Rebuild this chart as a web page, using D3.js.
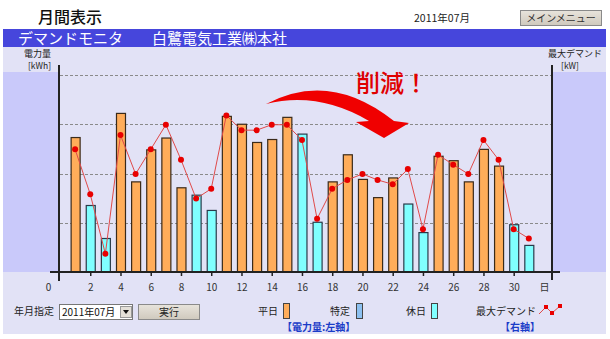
<!DOCTYPE html>
<html>
<head>
<meta charset="utf-8">
<script src="https://cdn.jsdelivr.net/npm/d3@7"></script>
<style>
  body { margin: 0; background: #fff; }
  svg text { font-family: "Noto Sans CJK JP", "DejaVu Sans", sans-serif; }
</style>
</head>
<body>
<svg id="chart" width="610" height="339"></svg>
<script>
// daily values (left axis: kWh, right axis: kW)
const days = d3.range(1, 32);
const usage = [2.73, 1.35, 0.68, 3.22, 1.83, 2.48, 2.72, 1.71, 1.56, 1.25,
               3.16, 3.00, 2.63, 2.69, 3.14, 2.80, 1.01, 1.83, 2.38, 1.88,
               1.51, 1.91, 1.38, 0.80, 2.35, 2.26, 1.83, 2.49, 2.15, 0.96, 0.54];
const dayType = ['w','h','h','w','w','w','w','w','h','h',
                 'w','w','w','w','w','h','h','w','w','w',
                 'w','w','h','h','w','w','w','w','w','h','h'];
const demand = [2.49, 1.58, 0.37, 2.78, 1.99, 2.49, 2.99, 2.28, 1.49, 1.69,
                3.18, 2.88, 2.88, 2.99, 2.99, 2.68, 1.08, 1.69, 1.87, 1.99,
                1.87, 1.78, 2.09, 0.87, 2.38, 2.18, 1.99, 2.68, 2.28, 0.87, 0.68];
const xTicks = [0, 2, 4, 6, 8, 10, 12, 14, 16, 18, 20, 22, 24, 26, 28, 30];
const gridValues = [1, 2, 3, 4];

const colors = { w: '#ffad5a', s: '#8cc0f0', h: '#80ffff' };

const svg = d3.select('#chart');

// header
svg.append('text').attr('x', 38).attr('y', 23)
  .attr('font-size', 16).attr('font-weight', 500).attr('fill', '#111').text('月間表示');
svg.append('text').attr('x', 414).attr('y', 22)
  .attr('font-size', 10.5).attr('fill', '#222').text('2011年07月');

const btnGrad = svg.append('defs').append('linearGradient')
  .attr('id', 'btn').attr('x1', 0).attr('x2', 0).attr('y1', 0).attr('y2', 1);
btnGrad.append('stop').attr('offset', 0).attr('stop-color', '#e8e4dc');
btnGrad.append('stop').attr('offset', 1).attr('stop-color', '#cfc9bd');

svg.append('rect').attr('x', 520.5).attr('y', 10.5).attr('width', 81).attr('height', 15)
  .attr('fill', 'url(#btn)').attr('stroke', '#8a8a8a');
svg.append('text').attr('x', 561).attr('y', 22).attr('text-anchor', 'middle')
  .attr('font-size', 10).attr('fill', '#333').text('メインメニュー');

// banner
svg.append('rect').attr('x', 3).attr('y', 29).attr('width', 603).attr('height', 18).attr('fill', '#4646dc');
svg.append('text').attr('x', 18).attr('y', 44).attr('font-size', 15).attr('fill', '#fff').text('デマンドモニタ');
svg.append('text').attr('x', 152).attr('y', 44).attr('font-size', 15).attr('fill', '#fff').text('白鷺電気工業㈱本社');

// panel background
svg.append('rect').attr('x', 3).attr('y', 47).attr('width', 603).attr('height', 287).attr('fill', '#e2e2f6');
svg.append('rect').attr('x', 3).attr('y', 72).attr('width', 56).attr('height', 200).attr('fill', '#c9c9fa');
svg.append('rect').attr('x', 552).attr('y', 72).attr('width', 54).attr('height', 200).attr('fill', '#c9c9fa');

// scales
const x = d3.scaleLinear().domain([0, 32.5]).range([60, 551.5]);
const y = d3.scaleLinear().domain([0, 4]).range([272, 75]);
const y2 = d3.scaleLinear().domain([0, 4]).range([272, 75]);

// grid
svg.append('g').selectAll('line').data(gridValues).join('line')
  .attr('x1', 60).attr('x2', 551)
  .attr('y1', d => Math.round(y(d)) + 0.5).attr('y2', d => Math.round(y(d)) + 0.5)
  .attr('stroke', '#8a8a8a').attr('stroke-dasharray', '3,2');

// axis titles
svg.append('text').attr('x', 51).attr('y', 57).attr('text-anchor', 'end')
  .attr('font-size', 9).attr('fill', '#222').text('電力量');
svg.append('text').attr('x', 51).attr('y', 69).attr('text-anchor', 'end')
  .attr('font-size', 8.5).attr('fill', '#222').text('[kWh]');
svg.append('text').attr('x', 575).attr('y', 57).attr('text-anchor', 'middle')
  .attr('font-size', 9).attr('fill', '#222').text('最大デマンド');
svg.append('text').attr('x', 570).attr('y', 69).attr('text-anchor', 'middle')
  .attr('font-size', 8.5).attr('fill', '#222').text('[kW]');

// bars
const barW = 9;
svg.append('g').selectAll('rect').data(days).join('rect')
  .attr('x', d => x(d) - barW / 2 + 0.5)
  .attr('y', (d, i) => y(usage[i]))
  .attr('width', barW)
  .attr('height', (d, i) => y(0) - y(usage[i]))
  .attr('fill', (d, i) => colors[dayType[i]])
  .attr('stroke', (d, i) => dayType[i] === 'w' ? '#3a2a1a' : '#2a3a4a')
  .attr('stroke-width', 1.2);

// demand line
const line = d3.line().x((d, i) => x(days[i])).y(d => y2(d));
svg.append('path').datum(demand).attr('d', line)
  .attr('fill', 'none').attr('stroke', '#e04a4a').attr('stroke-width', 1);
svg.append('g').selectAll('circle').data(demand).join('circle')
  .attr('cx', (d, i) => x(days[i])).attr('cy', d => y2(d)).attr('r', 3)
  .attr('fill', '#e80000');

// axes
const xAxis = d3.axisBottom(x).tickValues(xTicks.concat([32]))
  .tickSize(4).tickPadding(8)
  .tickFormat(d => d === 32 ? '日' : d);
const xg = svg.append('g').attr('transform', 'translate(0,272)').call(xAxis);
xg.select('.domain').remove();
xg.selectAll('.tick line').attr('stroke', '#222').attr('stroke-width', 1.5)
  .filter(d => d === 0 || d === 32).remove();
xg.selectAll('.tick text').attr('font-size', 10).attr('fill', '#333')
  .attr('font-family', '"DejaVu Sans", sans-serif')
  .filter(d => d === 0).attr('dx', -12);
xg.selectAll('.tick text').filter(d => d === 32)
  .attr('font-family', '"Noto Sans CJK JP", sans-serif');

svg.append('line').attr('x1', 50).attr('x2', 560).attr('y1', 272).attr('y2', 272)
  .attr('stroke', '#222').attr('stroke-width', 2);
svg.append('line').attr('x1', 59).attr('x2', 59).attr('y1', 65).attr('y2', 281)
  .attr('stroke', '#222').attr('stroke-width', 2);
svg.append('line').attr('x1', 552).attr('x2', 552).attr('y1', 65).attr('y2', 280)
  .attr('stroke', '#222').attr('stroke-width', 2);

// annotation: arrow + 削減！
svg.append('path')
  .attr('d', 'M266,104 Q330,70 394,121 L409,123 L384,138 L356,122 L369,121 Q318,91 266,104 Z')
  .attr('fill', '#f00000');
svg.append('text').attr('x', 356).attr('y', 92).attr('font-size', 24)
  .attr('font-weight', 500).attr('fill', '#e00000').text('削減！');

// bottom controls
svg.append('text').attr('x', 14).attr('y', 315).attr('font-size', 10).attr('fill', '#222').text('年月指定');
svg.append('rect').attr('x', 59.5).attr('y', 304.5).attr('width', 73).attr('height', 15)
  .attr('fill', '#fff').attr('stroke', '#777');
svg.append('text').attr('x', 62).attr('y', 316).attr('font-size', 10).attr('fill', '#111').text('2011年07月');
svg.append('rect').attr('x', 120.5).attr('y', 306.5).attr('width', 11).attr('height', 11)
  .attr('fill', '#e4e0d8').attr('stroke', '#999');
svg.append('path').attr('d', 'M123,310 L129,310 L126,314 Z').attr('fill', '#111');
svg.append('rect').attr('x', 138.5).attr('y', 304.5).attr('width', 61).attr('height', 15)
  .attr('fill', 'url(#btn)').attr('stroke', '#8a8a8a');
svg.append('text').attr('x', 169).attr('y', 316).attr('text-anchor', 'middle')
  .attr('font-size', 10).attr('fill', '#222').text('実行');

// legend
const legendItems = [
  { label: '平日', key: 'w', tx: 258, sx: 283 },
  { label: '特定', key: 's', tx: 330, sx: 356 },
  { label: '休日', key: 'h', tx: 406, sx: 431 }
];
const lg = svg.append('g');
legendItems.forEach(it => {
  lg.append('text').attr('x', it.tx).attr('y', 315).attr('font-size', 10).attr('fill', '#222').text(it.label);
  lg.append('rect').attr('x', it.sx + 0.5).attr('y', 303.5).attr('width', 6).attr('height', 15)
    .attr('fill', colors[it.key]).attr('stroke', '#444');
});
lg.append('text').attr('x', 476).attr('y', 315).attr('font-size', 10).attr('fill', '#222').text('最大デマンド');
const icon = [[539, 314], [546, 307], [552, 313], [560, 306]];
lg.append('path').attr('d', d3.line()(icon)).attr('fill', 'none').attr('stroke', '#e04a4a');
lg.selectAll('rect.ic').data(icon.slice(1)).join('rect').attr('class', 'ic')
  .attr('x', d => d[0] - 2).attr('y', d => d[1] - 2).attr('width', 4).attr('height', 4).attr('fill', '#e80000');

svg.append('text').attr('x', 282).attr('y', 331).attr('font-size', 10).attr('font-weight', 'bold')
  .attr('fill', '#1a3cc8').text('【電力量:左軸】');
svg.append('text').attr('x', 500).attr('y', 331).attr('font-size', 10).attr('font-weight', 'bold')
  .attr('fill', '#1a3cc8').text('【右軸】');
</script>
</body>
</html>
